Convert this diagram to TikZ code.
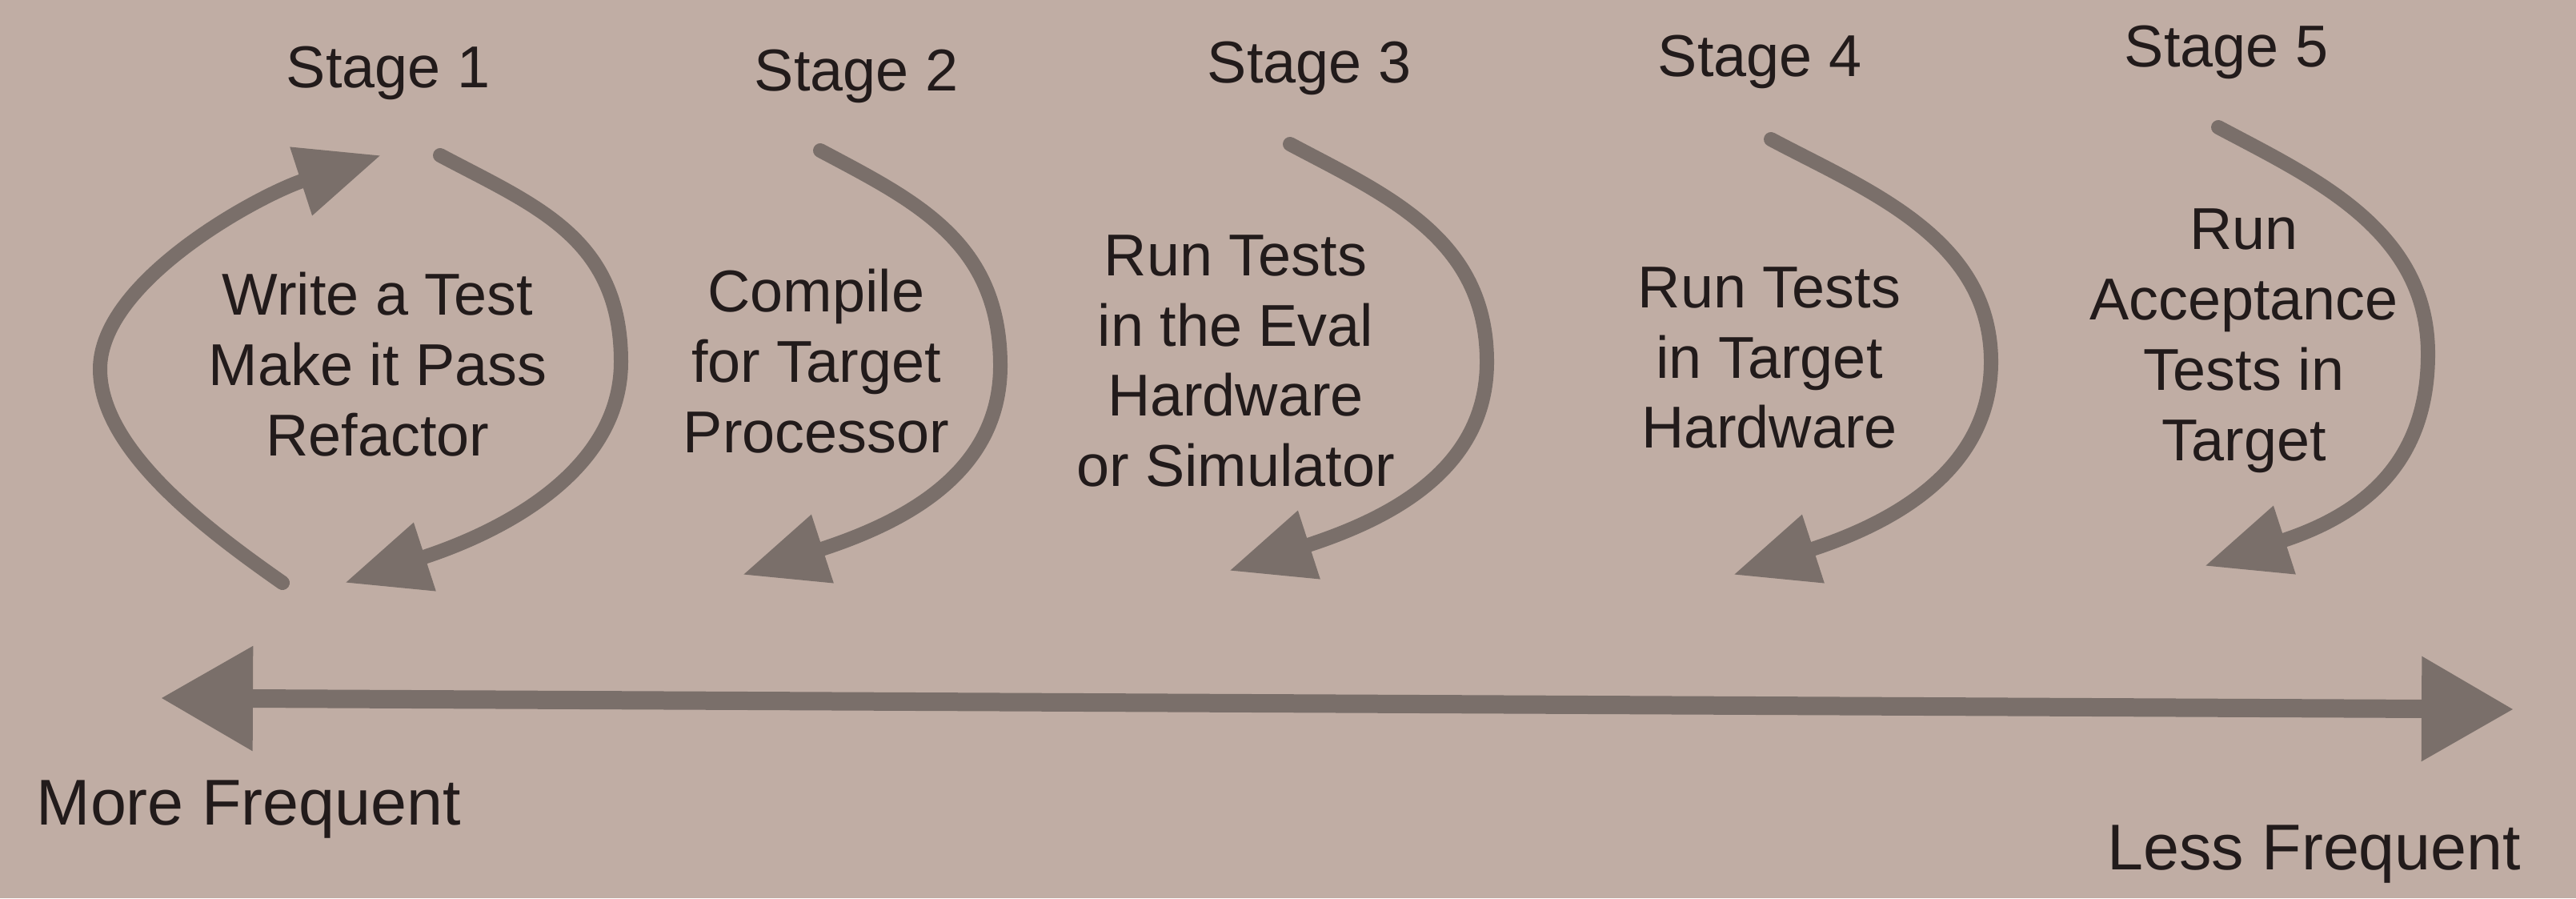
\documentclass[tikz,border=0pt]{standalone}
\usepackage{fontspec}
\setmainfont{Liberation Sans}
\usetikzlibrary{arrows.meta, positioning}

\definecolor{paper}{RGB}{192,173,164}
\definecolor{inkgray}{RGB}{122,111,106}
\definecolor{inktext}{RGB}{34,27,27}

\begin{document}
\begin{tikzpicture}[
    font=\fontsize{21}{25}\selectfont,
    stagelabel/.style={text=inktext, inner sep=0pt},
    task/.style={text=inktext, align=center, inner sep=0pt},
    freq/.style={text=inktext, inner sep=0pt, font=\fontsize{23}{27}\selectfont},
    cycle/.style={draw=inkgray, line width=0.18cm, line cap=round, -{Triangle[length=1.05cm, width=0.85cm]}},
    span/.style={draw=inkgray, line width=0.23cm, {Triangle[length=1.15cm, width=1.25cm]}-{Triangle[length=1.15cm, width=1.25cm]}},
    topbend/.style={out=-28, in=90, out distance=1.35cm, in distance=1.55cm},
    lowbend/.style={out=-90, in=18, out distance=1.35cm, in distance=2.1cm}
]
    \useasboundingbox (0,0) rectangle (32.19,11.22);
    \fill[paper] (0,0) rectangle (32.19,11.22);

    % stage headings
    \node[stagelabel] (stage1) at (4.85,10.31) {Stage 1};
    \node[stagelabel] (stage2) at (10.70,10.27) {Stage 2};
    \node[stagelabel] (stage3) at (16.36,10.37) {Stage 3};
    \node[stagelabel] (stage4) at (21.99,10.45) {Stage 4};
    \node[stagelabel] (stage5) at (27.82,10.57) {Stage 5};

    % what happens in each stage
    \node[task] (task1) at (4.72,6.67) {Write a Test\\Make it Pass\\Refactor};
    \node[task] (task2) at (10.20,6.71) {Compile\\for Target\\Processor};
    \node[task] (task3) at (15.44,6.71) {Run Tests\\in the Eval\\Hardware\\or Simulator};
    \node[task] (task4) at (22.11,6.75) {Run Tests\\in Target\\Hardware};
    \node[task] (task5) at (28.04,6.96) {Run\\Acceptance\\Tests in\\Target};

    % the cycle of stage 1
    \coordinate (c1ls) at (3.53,3.94);
    \coordinate (c1lm) at (1.25,6.61);
    \coordinate (c1le) at (4.76,9.28);
    \draw[cycle] (c1ls) to[out=145, in=-90, out distance=1.2cm, in distance=1.0cm] (c1lm)
        to[out=90, in=198, out distance=1.1cm, in distance=1.6cm] (c1le);
    \coordinate (c1rs) at (5.50,9.28);
    \coordinate (c1rm) at (7.76,6.70);
    \coordinate (c1re) at (4.31,3.94);
    \draw[cycle] (c1rs) to[topbend] (c1rm) to[lowbend] (c1re);

    % one pass through stages 2 to 5
    \coordinate (c2s) at (10.25,9.34);
    \coordinate (c2m) at (12.50,6.65);
    \coordinate (c2e) at (9.28,4.04);
    \draw[cycle] (c2s) to[topbend] (c2m) to[lowbend] (c2e);
    \coordinate (c3s) at (16.12,9.42);
    \coordinate (c3m) at (18.58,6.70);
    \coordinate (c3e) at (15.36,4.09);
    \draw[cycle] (c3s) to[topbend] (c3m) to[lowbend] (c3e);
    \coordinate (c4s) at (22.13,9.48);
    \coordinate (c4m) at (24.88,6.70);
    \coordinate (c4e) at (21.66,4.04);
    \draw[cycle] (c4s) to[topbend] (c4m) to[lowbend] (c4e);
    \coordinate (c5s) at (27.72,9.63);
    \coordinate (c5m) at (30.34,6.80);
    \coordinate (c5e) at (27.55,4.15);
    \draw[cycle] (c5s) to[topbend] (c5m) to[lowbend] (c5e);

    % frequency scale
    \coordinate (moreend) at (2.01,2.50);
    \coordinate (lessend) at (31.41,2.36);
    \draw[span] (moreend) -- (lessend);
    \node[freq, anchor=west] (more) at (0.45,1.11) {More Frequent};
    \node[freq, anchor=east] (less) at (31.51,0.55) {Less Frequent};
\end{tikzpicture}
\end{document}
